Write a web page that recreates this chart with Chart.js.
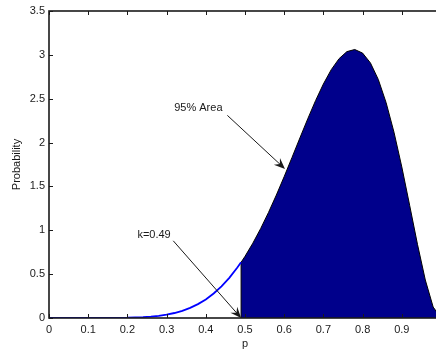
<!DOCTYPE html>
<html>
<head>
<meta charset="utf-8">
<script src="https://cdn.jsdelivr.net/npm/chart.js@4/dist/chart.umd.min.js"></script>
<style>
  html, body { margin: 0; padding: 0; background: #fff; overflow: hidden; }
  #betaChart { display: block; }
</style>
</head>
<body>
<canvas id="betaChart" width="444" height="351"></canvas>
<script>
// density below the cut-off k (drawn as the blue curve)
const pLower = [0, 0.02, 0.04, 0.06, 0.08, 0.10, 0.12, 0.14, 0.16, 0.18, 0.20, 0.22, 0.24,
  0.26, 0.28, 0.30, 0.32, 0.34, 0.36, 0.38, 0.40, 0.42, 0.44, 0.46, 0.48, 0.49];
const densLower = [0, 0, 0, 0, 0, 0, 0, 0, 0.001, 0.002, 0.003, 0.006, 0.010,
  0.016, 0.025, 0.039, 0.057, 0.082, 0.116, 0.158, 0.212, 0.279, 0.361, 0.458, 0.572, 0.635];

// density above k (shaded region, starts on the axis at k)
const pUpper = [0.49, 0.49, 0.50, 0.52, 0.54, 0.56, 0.58, 0.60, 0.62, 0.64, 0.66, 0.68, 0.70,
  0.72, 0.74, 0.76, 0.78, 0.80, 0.82, 0.84, 0.86, 0.88, 0.90, 0.92, 0.94, 0.96, 0.98, 1.00];
const densUpper = [0, 0.635, 0.703, 0.853, 1.020, 1.204, 1.402, 1.612, 1.831, 2.052, 2.270, 2.478, 2.668,
  2.831, 2.957, 3.037, 3.061, 3.020, 2.908, 2.720, 2.455, 2.119, 1.722, 1.285, 0.840, 0.433, 0.125, 0];

const xTicks = [0, 0.1, 0.2, 0.3, 0.4, 0.5, 0.6, 0.7, 0.8, 0.9, 1];
const yTicks = [0, 0.5, 1, 1.5, 2, 2.5, 3, 3.5];

// text callouts: label position, arrow start, arrow tip (data units)
const callouts = [
  { text: '95% Area', at: [0.381, 2.39], from: [0.455, 2.31], to: [0.602, 1.70] },
  { text: 'k=0.49', at: [0.268, 0.95], from: [0.317, 0.88], to: [0.49, 0] }
];

const FONT = '"Liberation Sans", Arial, sans-serif';
const INK = '#1a1a1a';

const toPts = (xs, ys) => xs.map((x, i) => ({ x: x, y: ys[i] }));

function arrowHead(ctx, x0, y0, x1, y1) {
  const ang = Math.atan2(y1 - y0, x1 - x0);
  const len = 11, half = 4.5, notch = 7;
  const c = Math.cos(ang), s = Math.sin(ang);
  const pt = (a, b) => [x1 - a * c + b * s, y1 - a * s - b * c];
  const l = pt(len, half), r = pt(len, -half), n = pt(notch, 0);
  ctx.beginPath();
  ctx.moveTo(x1, y1);
  ctx.lineTo(l[0], l[1]);
  ctx.lineTo(n[0], n[1]);
  ctx.lineTo(r[0], r[1]);
  ctx.closePath();
  ctx.fill();
}

const matlabFrame = {
  id: 'matlabFrame',
  afterDraw(chart) {
    const ctx = chart.ctx;
    const a = chart.chartArea;
    const xs = chart.scales.x, ys = chart.scales.y;
    ctx.save();
    ctx.strokeStyle = INK;
    ctx.lineWidth = 1;
    // inward ticks on all four sides
    ctx.beginPath();
    xTicks.forEach(v => {
      const px = Math.round(xs.getPixelForValue(v)) + 0.5;
      ctx.moveTo(px, a.bottom); ctx.lineTo(px, a.bottom - 4);
      ctx.moveTo(px, a.top); ctx.lineTo(px, a.top + 4);
    });
    yTicks.forEach(v => {
      const py = Math.round(ys.getPixelForValue(v)) + 0.5;
      ctx.moveTo(a.left, py); ctx.lineTo(a.left + 4, py);
      ctx.moveTo(a.right, py); ctx.lineTo(a.right - 4, py);
    });
    ctx.stroke();
    // box
    ctx.lineWidth = 1.6;
    ctx.strokeRect(a.left, a.top, a.right - a.left, a.bottom - a.top);

    // callouts
    ctx.fillStyle = INK;
    ctx.font = '11px ' + FONT;
    ctx.textAlign = 'center';
    ctx.textBaseline = 'middle';
    callouts.forEach(c => {
      ctx.fillText(c.text, xs.getPixelForValue(c.at[0]), ys.getPixelForValue(c.at[1]));
      const x0 = xs.getPixelForValue(c.from[0]), y0 = ys.getPixelForValue(c.from[1]);
      const x1 = xs.getPixelForValue(c.to[0]), y1 = ys.getPixelForValue(c.to[1]);
      ctx.lineWidth = 1;
      ctx.beginPath();
      ctx.moveTo(x0, y0);
      ctx.lineTo(x1 - (x1 - x0) * 0.05, y1 - (y1 - y0) * 0.05);
      ctx.stroke();
      arrowHead(ctx, x0, y0, x1, y1);
    });
    ctx.restore();
  }
};

new Chart(document.getElementById('betaChart'), {
  type: 'line',
  data: {
    datasets: [
      {
        data: toPts(pLower, densLower),
        borderColor: '#0000ff',
        borderWidth: 1.8,
        pointRadius: 0,
        fill: false,
        tension: 0
      },
      {
        data: toPts(pUpper, densUpper),
        borderColor: '#000000',
        borderWidth: 1,
        backgroundColor: '#00008b',
        pointRadius: 0,
        fill: 'origin',
        tension: 0
      }
    ]
  },
  options: {
    responsive: false,
    animation: false,
    devicePixelRatio: 1,
    layout: { padding: { top: 11, right: 3, left: 0, bottom: 0 } },
    plugins: {
      legend: { display: false },
      tooltip: { enabled: false }
    },
    scales: {
      x: {
        type: 'linear',
        min: 0,
        max: 1,
        afterFit: s => { s.height = 33; s.paddingLeft = 0; s.paddingRight = 0; },
        afterBuildTicks: s => { s.ticks = xTicks.map(v => ({ value: v })); },
        grid: { display: false, drawTicks: false },
        border: { display: false },
        ticks: {
          color: INK,
          padding: 5,
          maxRotation: 0,
          autoSkip: false,
          font: { family: FONT, size: 11 },
          callback: v => String(v)
        },
        title: {
          display: true,
          text: 'p',
          color: INK,
          padding: { top: 0, bottom: 0 },
          font: { family: FONT, size: 11 }
        }
      },
      y: {
        type: 'linear',
        min: 0,
        max: 3.5,
        afterFit: s => { s.width = 49; s.paddingTop = 0; s.paddingBottom = 0; },
        afterBuildTicks: s => { s.ticks = yTicks.map(v => ({ value: v })); },
        grid: { display: false, drawTicks: false },
        border: { display: false },
        ticks: {
          color: INK,
          padding: 4,
          font: { family: FONT, size: 11 },
          callback: v => String(v)
        },
        title: {
          display: true,
          text: 'Probability',
          color: INK,
          padding: { top: 10, bottom: 0 },
          font: { family: FONT, size: 11 }
        }
      }
    }
  },
  plugins: [matlabFrame]
});
</script>
</body>
</html>
